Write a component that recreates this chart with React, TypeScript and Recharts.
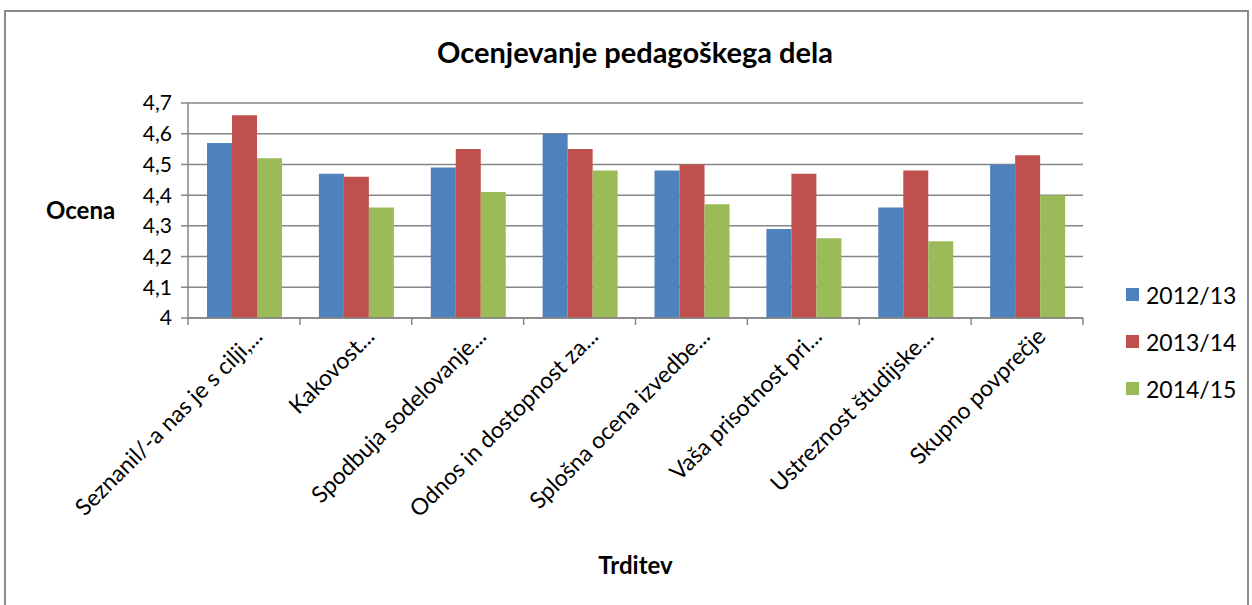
import React from "react";
import { Bar, BarChart, CartesianGrid, Legend, XAxis, YAxis } from "recharts";

const categories = [
  "Seznanil/-a nas je s cilji,...",
  "Kakovost...",
  "Spodbuja sodelovanje...",
  "Odnos in dostopnost za...",
  "Splošna ocena izvedbe...",
  "Vaša prisotnost pri...",
  "Ustreznost študijske...",
  "Skupno povprečje",
];
const y2012 = [4.57, 4.47, 4.49, 4.6, 4.48, 4.29, 4.36, 4.5];
const y2013 = [4.66, 4.46, 4.55, 4.55, 4.5, 4.47, 4.48, 4.53];
const y2014 = [4.52, 4.36, 4.41, 4.48, 4.37, 4.26, 4.25, 4.4];
const yTicks = [4, 4.1, 4.2, 4.3, 4.4, 4.5, 4.6, 4.7];

const series = [
  { key: "s2012", name: "2012/13", color: "#4F81BD" },
  { key: "s2013", name: "2013/14", color: "#C0504D" },
  { key: "s2014", name: "2014/15", color: "#9BBB59" },
];

const data = categories.map((c, i) => ({ cat: c, s2012: y2012[i], s2013: y2013[i], s2014: y2014[i] }));

const FONT = "Lato, 'Liberation Sans', sans-serif";
const PLOT_LEFT = 188;
const PLOT_RIGHT = 1083;
const band = (PLOT_RIGHT - PLOT_LEFT) / categories.length;

function XTick(props: any) {
  const { x, y, payload, index } = props;
  return (
    <g>
      <line x1={x - band / 2} y1={y - 8} x2={x - band / 2} y2={y - 1} stroke="#868686" strokeWidth={1.5} />
      {index === categories.length - 1 && (
        <line x1={x + band / 2} y1={y - 8} x2={x + band / 2} y2={y - 1} stroke="#868686" strokeWidth={1.5} />
      )}
      <text
        x={x + 20}
        y={y + 12}
        transform={`rotate(-45 ${x + 20} ${y + 12})`}
        textAnchor="end"
        fontSize={23}
        fill="#000"
        fontFamily={FONT}
      >
        {payload.value}
      </text>
    </g>
  );
}

function LegendContent() {
  return (
    <div style={{ fontFamily: FONT, fontSize: 23 }}>
      {series.map((s) => (
        <div key={s.key} style={{ display: "flex", alignItems: "center", height: 47 }}>
          <span style={{ width: 13, height: 13, background: s.color, marginRight: 7, display: "inline-block" }} />
          <span>{s.name}</span>
        </div>
      ))}
    </div>
  );
}

export default function App() {
  return (
    <div style={{ position: "absolute", left: 0, top: 0, width: 1252, height: 605, background: "#fff", overflow: "hidden" }}>
      <div
        style={{
          position: "absolute",
          left: 4,
          top: 10,
          width: 1241,
          height: 600,
          border: "2px solid #8c8c8c",
        }}
      />
      <div
        style={{
          position: "absolute",
          left: 0,
          width: 1270,
          top: 34,
          textAlign: "center",
          fontFamily: FONT,
          fontWeight: "bold",
          fontSize: 29,
        }}
      >
        Ocenjevanje pedagoškega dela
      </div>
      <BarChart
        width={1252}
        height={605}
        data={data}
        margin={{ top: 103, right: 1252 - PLOT_RIGHT, bottom: 0, left: 20 }}
        barCategoryGap="17%"
        barGap={0}
        style={{ position: "absolute", left: 0, top: 0 }}
      >
        <CartesianGrid vertical={false} stroke="#868686" strokeWidth={1.5} />
        <XAxis
          dataKey="cat"
          height={287}
          interval={0}
          tickLine={false}
          axisLine={{ stroke: "#868686", strokeWidth: 1.5 }}
          tick={<XTick />}
          label={{ value: "Trditev", position: "insideBottom", offset: 31, fontSize: 24, fontWeight: "bold", fill: "#000", fontFamily: FONT }}
        />
        <YAxis
          width={PLOT_LEFT - 20}
          domain={[4, 4.7]}
          ticks={yTicks}
          interval={0}
          tickFormatter={(v: number) => String(v).replace(".", ",")}
          tick={{ fontSize: 21, fill: "#000", fontFamily: FONT }}
          tickLine={{ stroke: "#868686", strokeWidth: 1.5 }}
          tickSize={7}
          tickMargin={9}
          axisLine={{ stroke: "#868686", strokeWidth: 1.5 }}
          label={{ value: "Ocena", position: "insideLeft", offset: 26, angle: 0, fontSize: 24, fontWeight: "bold", fill: "#000", fontFamily: FONT }}
        />
        <Legend
          layout="vertical"
          align="center"
          verticalAlign="middle"
          content={<LegendContent />}
          wrapperStyle={{ left: 1126, top: 271, width: 120 }}
        />
        {series.map((s) => (
          <Bar key={s.key} dataKey={s.key} name={s.name} fill={s.color} isAnimationActive={false} />
        ))}
      </BarChart>
    </div>
  );
}
